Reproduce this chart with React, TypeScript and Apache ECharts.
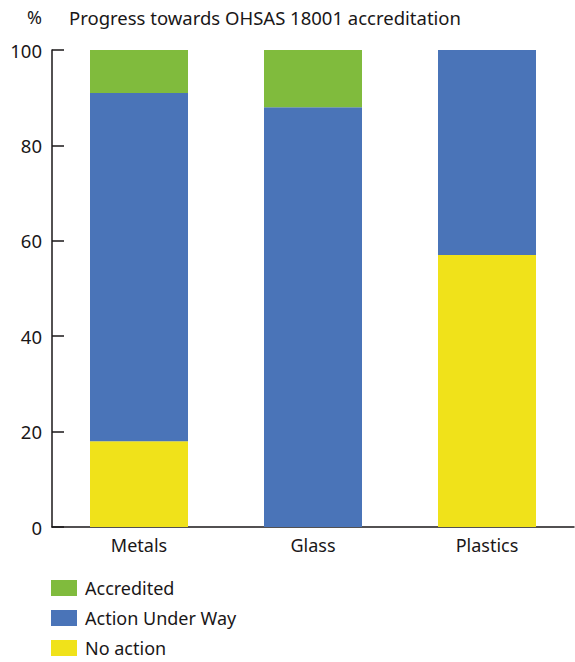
import React, { useEffect, useRef } from "react";
import * as echarts from "echarts";

const categories = ["Metals", "Glass", "Plastics"];
const noAction = [18, 0, 57];
const actionUnderWay = [73, 88, 43];
const accredited = [9, 12, 0];
const yTicks = [0, 20, 40, 60, 80, 100];
const legendOrder = ["Accredited", "Action Under Way", "No action"];

const FONT = "Noto Sans";
const INK = "#1a1718";

export default function App() {
  const ref = useRef<HTMLDivElement>(null);
  useEffect(() => {
    const chart = echarts.init(ref.current!, undefined, { renderer: "svg" });
    chart.setOption({
      animation: false,
      textStyle: { fontFamily: FONT },
      grid: { left: 52, top: 50, right: 1, bottom: 135, containLabel: false },
      graphic: [
        { type: "text", left: 27, top: 8, style: { text: "%", font: `18px ${FONT}`, fill: INK } },
        {
          type: "text",
          left: 69,
          top: 8,
          style: { text: "Progress towards OHSAS 18001 accreditation", font: `18.5px ${FONT}`, fill: INK },
        },
      ],
      legend: legendOrder.map((name, i) => ({
        orient: "vertical",
        left: 51,
        top: 579 + i * 30,
        itemWidth: 26,
        itemHeight: 16,
        icon: "rect",
        data: [name],
        textStyle: { fontSize: 18, color: INK, fontFamily: FONT, padding: [0, 0, 0, 3] },
        padding: 0,
      })),
      xAxis: {
        type: "category",
        data: categories,
        axisLine: { lineStyle: { color: INK, width: 1.5 } },
        axisTick: { inside: true, length: 12, lineStyle: { color: INK, width: 1.5 } },
        axisLabel: { fontSize: 18, color: INK, margin: 9 },
      },
      yAxis: {
        type: "value",
        min: 0,
        max: 100,
        interval: 20,
        data: yTicks,
        axisLine: { show: true, lineStyle: { color: INK, width: 1.5 } },
        axisTick: { show: true, inside: true, length: 12, lineStyle: { color: INK, width: 1.5 } },
        axisLabel: { fontSize: 18.5, color: INK, margin: 10 },
        splitLine: { show: false },
      },
      series: [
        { name: "No action", type: "bar", stack: "s", data: noAction, barWidth: 98, itemStyle: { color: "#f0e21a" } },
        { name: "Action Under Way", type: "bar", stack: "s", data: actionUnderWay, barWidth: 98, itemStyle: { color: "#4a74b8" } },
        { name: "Accredited", type: "bar", stack: "s", data: accredited, barWidth: 98, itemStyle: { color: "#80bb3d" } },
      ],
    });
    return () => chart.dispose();
  }, []);
  return <div ref={ref} style={{ position: "absolute", left: 0, top: 0, width: 575, height: 662 }} />;
}
